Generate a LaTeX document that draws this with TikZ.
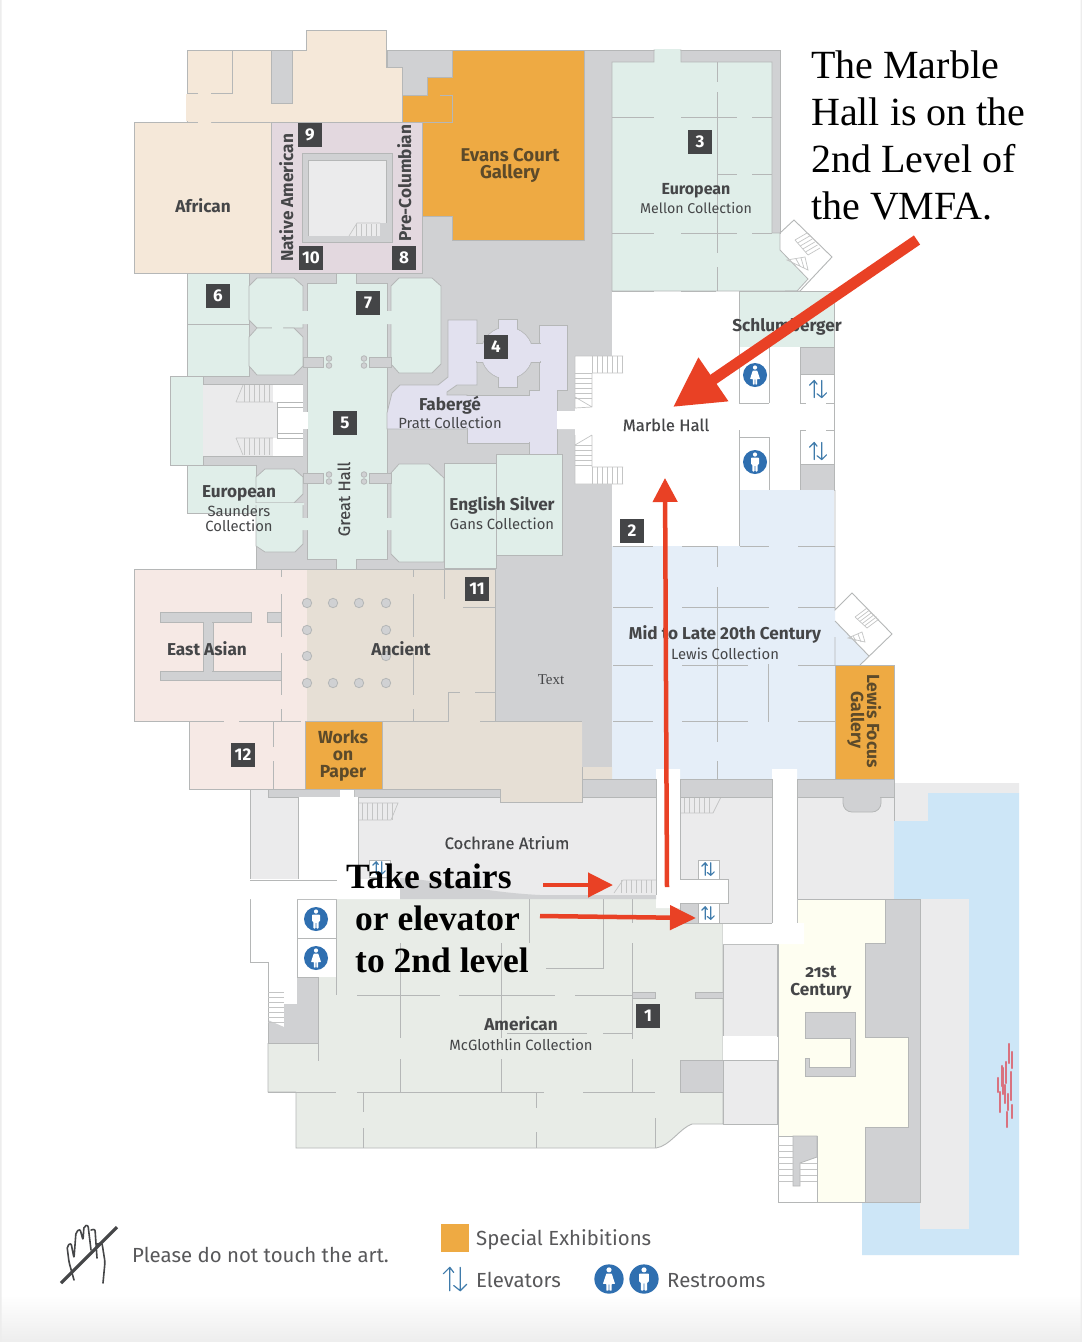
\documentclass[tikz,border=0pt]{standalone}
\usepackage{fontspec}
\setmainfont{Fira Sans}
\newfontfamily\tms{Liberation Serif}
\newfontfamily\medf[FakeBold=0.35]{Fira Sans}
\usetikzlibrary{arrows.meta}
\definecolor{core}{HTML}{D0D1D3}
\definecolor{ln}{HTML}{B5B7B7}
\definecolor{mint}{HTML}{E0EEE9}
\definecolor{sand}{HTML}{F5E8D9}
\definecolor{plum}{HTML}{E3D8DF}
\definecolor{amber}{HTML}{EEAA43}
\definecolor{lav}{HTML}{E2E1EF}
\definecolor{sky}{HTML}{E5EEF8}
\definecolor{pink}{HTML}{F6E9E5}
\definecolor{anc}{HTML}{E6DFD5}
\definecolor{atr}{HTML}{EBEBEC}
\definecolor{amer}{HTML}{E8ECE7}
\definecolor{yel}{HTML}{FEFEF1}
\definecolor{water}{HTML}{CDE6F7}
\definecolor{redarrow}{HTML}{E94125}
\definecolor{badgec}{HTML}{444547}
\definecolor{txt}{HTML}{454648}
\definecolor{otxt}{HTML}{5C4A2A}
\definecolor{iconb}{HTML}{2F6FB0}
\definecolor{elevb}{HTML}{3F7BAB}
\definecolor{stairc}{HTML}{C4C5C5}
\definecolor{fish}{HTML}{D9727F}
\tikzset{
 room/.style={draw=ln,line width=.8pt,line join=miter},
 wl/.style={draw=ln,line width=.9pt},
 st/.style={draw=stairc,line width=.7pt},
 badge/.style={fill=badgec,text=white,minimum size=24pt,inner sep=0pt,font=\fontsize{17}{17}\selectfont\bfseries},
 bl/.style={anchor=base,inner sep=0pt,text=txt,font=\fontsize{17.2}{19}\selectfont\bfseries},
 bls/.style={anchor=base,inner sep=0pt,text=txt,font=\fontsize{16}{18}\selectfont\bfseries},
 ol/.style={anchor=base,inner sep=0pt,text=otxt,font=\fontsize{17.5}{19}\selectfont\bfseries},
 sl/.style={anchor=base,inner sep=0pt,text=txt,font=\fontsize{14.8}{16}\selectfont},
 ml/.style={anchor=base,inner sep=0pt,text=txt,font=\fontsize{16.6}{18}\medf\selectfont},
 lg/.style={anchor=base west,inner sep=0pt,text=txt!90,font=\fontsize{20.4}{24}\selectfont},
 big/.style={anchor=base west,inner sep=0pt,text=black,font=\fontsize{40}{44}\tms\selectfont},
 bigb/.style={anchor=base west,inner sep=0pt,text=black,font=\fontsize{35.5}{40}\tms\selectfont\bfseries},
 elevpic/.pic={
  \draw[elevb,line width=1.2pt,line cap=round,line join=round] (-4,9)--(-4,-9) (-9,-4)--(-4,-9)--(-1,-5);
  \draw[elevb,line width=1.2pt,line cap=round,line join=round] (4,-9)--(4,9) (-1,5)--(4,9)--(9,4);
 },
 manpic/.pic={
  \fill[iconb] (0,0) circle (12pt);
  \fill[white] (0,-7.5) circle (2.1pt);
  \fill[white,rounded corners=.8pt] (-4,-4.5)--(4,-4.5)--(4,2.5)--(2.6,2.5)--(2.6,9.5)--(.3,9.5)--(.3,3)--(-.3,3)--(-.3,9.5)--(-2.6,9.5)--(-2.6,2.5)--(-4,2.5)--cycle;
 },
 womanpic/.pic={
  \fill[iconb] (0,0) circle (12pt);
  \fill[white] (0,-7.5) circle (2.1pt);
  \fill[white,rounded corners=.5pt] (-2.2,-4.5)--(2.2,-4.5)--(5,4)--(2.2,4)--(2.2,9.5)--(.3,9.5)--(.3,4)--(-.3,4)--(-.3,9.5)--(-2.2,9.5)--(-2.2,4)--(-5,4)--cycle;
 },
}
\begin{document}
\begin{tikzpicture}[x=1pt,y=-1pt]
\useasboundingbox (0,0) rectangle (1082,1342);
\fill[white] (0,0) rectangle (1082,1342);
\shade[top color=white,bottom color=black!7,draw=none] (0,1295) rectangle (1082,1342);
\fill[black!7] (0,0) rectangle (1.5,1342) (1080.5,0) rectangle (1082,1342);

% ---- grey core
\path[fill=core,room] (387,50)--(780,50)--(780,233)--(612,233)--(612,770)--(495,770)--(495,569)--(256,569)--(256,465)--(203,465)--(203,375)--(249,375)--(249,273)--(387,273)--cycle;
\fill[white] (612,234) rectangle (780,292);

% ---- top beige + African
\path[fill=sand,room] (187,50)--(271,50)--(271,103)--(292,103)--(292,50)--(306,50)--(306,30)--(386,30)--(386,67)--(402,67)--(402,122)--(187,122)--cycle;
\path[fill=core,room] (271,50) rectangle (292,103);
\path[fill=sand,room] (134,122) rectangle (271,273);
\fill[sand] (186,94) rectangle (188,121) (198,121) rectangle (211,124) (272,122) rectangle (270,122);
\draw[wl] (232,50)--(232,93)--(211,93) (198,93)--(187,93);

% ---- Evans orange
\path[fill=amber,room] (452,50)--(584,50)--(584,240)--(452,240)--(452,216)--(422,216)--(422,122)--(402,122)--(402,95)--(427,95)--(427,77)--(452,77)--cycle;
\draw[wl] (402,122)--(452,122)--(452,95)--(440,95);

% ---- plum
\path[fill=plum,room] (271,122) rectangle (422,273);
\path[fill=core,room] (302,153) rectangle (392,242);
\fill[atr] (308,160) rectangle (386,236);
\draw[wl,line width=.7pt] (308,236)--(308,160)--(386,160)--(386,223);
\fill[core] (380,223) rectangle (392,236);
\foreach \x in {356,361,...,376} \draw[st] (\x,224)--(\x,236);
\draw[st] (349,236)--(357,223)--(380,223);

% ---- mint, west galleries
\path[fill=mint,room] (187,273) rectangle (249,324);
\path[fill=mint,room] (187,324) rectangle (249,376);
\path[fill=mint,room] (170,376) rectangle (203,465);
\path[fill=mint,room] (187,465)--(256,465)--(256,513)--(187,513)--cycle;
\fill[mint] (248,290) rectangle (251,320);

% octagons
\path[fill=mint,room] (257,278)--(294,278)--(303,286)--(303,328)--(257,328)--(249,320)--(249,286)--cycle;
\path[fill=mint,room] (257,328)--(294,328)--(303,337)--(303,366)--(294,375)--(257,375)--(249,366)--(249,337)--cycle;
\path[fill=mint,room] (399,278)--(432,278)--(441,286)--(441,364)--(432,373)--(399,373)--(391,364)--(391,286)--cycle;
\path[fill=mint,room] (265,469)--(294,469)--(303,477)--(303,494)--(294,503)--(256,503)--(256,477)--cycle;
\path[fill=mint,room] (256,503)--(303,503)--(303,544)--(295,552)--(265,552)--(256,546)--cycle;
\path[fill=mint,room] (399,464)--(429,464)--(444,478)--(444,562)--(399,562)--(391,554)--(391,473)--cycle;
\fill[mint] (255,503) rectangle (304,505) (272,327) rectangle (283,330);

% Left stair space
\fill[white] (203,384) rectangle (303,456);
\fill[atr] (203,384) rectangle (273,456);
\fill[atr] (203,402) rectangle (277,438);
\draw[wl,line width=.7pt] (203,384)--(303,384) (203,456)--(303,456) (277,402)--(277,438) (277,402)--(303,402) (277,407)--(303,407) (277,433)--(303,433) (277,438)--(303,438);
\foreach \x in {244,249,...,272} {\draw[st] (\x,385)--(\x,402); \draw[st] (\x,438)--(\x,455);}
\draw[st] (236,402)--(243,385) (236,438)--(243,455) (236,402)--(273,402) (236,438)--(273,438);

% Great Hall
\path[fill=mint,room] (307,283)--(336,283)--(336,273)--(356,273)--(356,283)--(387,283)--(387,559)--(356,559)--(356,570)--(336,570)--(336,559)--(307,559)--cycle;
\fill[mint] (302,311) rectangle (308,324) (302,518) rectangle (308,530);
\fill[mint] (386,311) rectangle (392,324) (386,518) rectangle (392,530);
\fill[white] (302,412) rectangle (308,429);
\foreach \y in {357,473} {
 \path[fill=core,room] (303,\y) rectangle (323,\y+10);
 \path[fill=core,room] (369,\y) rectangle (391,\y+10);
 \foreach \x in {329,364} {
  \path[fill=core,room] (\x,\y+1.5) circle (2.8pt);
  \path[fill=core,room] (\x,\y+8.5) circle (2.8pt);
 }
}

% ---- Faberge
\path[fill=lav,room] (387,429)--(387,413)--(392,393)--(400,385)--(438,385)--(448,377)--(448,320)--(477,320)--(477,385)--(457,385)--(447,392)--(447,395)--(467,395)--(467,429)--cycle;
\path[fill=lav,room] (467,395) rectangle (529,443);
\path[fill=lav,room] (539,325)--(567,325)--(567,390)--(557,390)--(557,454)--(529,454)--(529,390)--(539,390)--cycle;
\fill[lav] (440,396) rectangle (469,428);
% rotunda
\path[fill=lav,room] (507,353) circle (26pt);
\path[fill=lav,room] (498,319) rectangle (517,387);
\path[fill=lav,room] (476,343) rectangle (540,362);
\fill[lav] (507,353) circle (25.5pt) (499,320) rectangle (516,386) (475,344) rectangle (541,361);
\fill[lav] (527,396) rectangle (531,442);

% English Silver
\path[fill=mint,room] (444,463) rectangle (496,568);
\path[fill=mint,room] (496,454) rectangle (562,555);

% ---- Mellon
\path[fill=mint,room] (612,62)--(654,62)--(654,50)--(681,50)--(681,62)--(772,62)--(772,233)--(780,233)--(780,250)--(808,279)--(797,291)--(612,291)--cycle;
\draw[wl] (780,233)--(794,220)--(832,257)--(800,291)--(785,291);
\draw[st] (795,240)--(808,255) (807,233)--(820,245);
\foreach \a/\b in {0/0,2.6/3,5.2/6,7.8/9,10.4/12,13/15} \draw[st] (795+\a,240+\b)--(807+\a,233+\b);
\draw[st] (787,260)--(805,257)--(808,270)--cycle (796,259)--(800,266) (801,258)--(804,268);
\fill[mint] (655,49) rectangle (680,63);
\draw[wl] (612,117)--(654,117) (681,117)--(737,117) (752,117)--(772,117);
\draw[wl] (717,174)--(737,174) (752,174)--(772,174);
\draw[wl] (612,233)--(654,233) (681,233)--(737,233) (752,233)--(772,233);
\draw[wl] (612,291)--(654,291) (681,291)--(716,291);
\draw[wl] (717,62)--(717,82) (717,92)--(717,253) (717,267)--(717,291);

% ---- Marble Hall (white)
\fill[white] (612,292)--(739,292)--(739,546)--(612,546)--(612,484)--(575,484)--(575,429)--(557,429)--(557,411)--(575,411)--(575,356)--(612,356)--cycle;
\path[fill=mint,room] (739,291) rectangle (834,347);
\fill[white] (739,347) rectangle (834,490);
\draw[wl] (834,347)--(834,490);
\draw[wl] (739,347)--(739,403) (739,430)--(739,490) (739,403)--(769,403) (739,437)--(769,437) (739,490)--(769,490);
\draw[wl] (769,347)--(769,403) (769,437)--(769,490);
\path[fill=core,room] (800,347) rectangle (834,374);
\path[fill=core,room] (800,464) rectangle (834,490);
\draw[wl] (800,374)--(800,403)--(806,403) (826,403)--(834,403) (800,464)--(800,430)--(806,430) (826,430)--(834,430);
\draw[st] (575,356)--(623,356) (575,356)--(575,408) (592,373)--(623,373) (592,373)--(592,407) (575,435)--(575,484)--(623,484) (592,467)--(623,467) (592,435)--(592,467) (575,408)--(592,407) (575,397)--(592,407) (575,445)--(592,435);
\foreach \x in {592,597,...,623} {\draw[st] (\x,356)--(\x,373); \draw[st] (\x,467)--(\x,484);}
\foreach \y in {373,378,...,398} \draw[st] (575,\y)--(592,\y);
\foreach \y in {445,450,...,467} \draw[st] (575,\y)--(592,\y);

% ---- Blue / Mid-Late
\path[fill=sky,draw=none] (739,490)--(834,490)--(834,546)--(835,546)--(835,621)--(869,656)--(860,665)--(835,665)--(835,780)--(612,780)--(612,546)--(739,546)--cycle;
\draw[wl] (835,490)--(835,610)--(852,593)--(892,634)--(860,665) (869,656)--(835,621) (835,637)--(835,665);
\draw[st] (855,617)--(867,628) (867,608)--(878,620);
\foreach \a/\b in {0/0,2.4/2.2,4.8/4.4,7.2/6.6,9.6/8.8,12/11} \draw[st] (855+\a,617+\b)--(867+\a,608+\b);
\draw[st] (848,638)--(862,632)--(865,642)--cycle (853,636)--(856,641) (858,634)--(861,642);
\draw[wl] (613,546)--(653,546) (682,546)--(717,546) (740,546)--(769,546) (798,546)--(835,546) (739,490)--(739,546);
\draw[wl] (613,607)--(653,607) (682,607)--(769,607) (798,607)--(835,607);
\draw[wl] (613,665)--(653,665) (682,665)--(748,665) (798,665)--(835,665);
\draw[wl] (613,721)--(653,721) (682,721)--(748,721) (798,721)--(835,721);
\draw[wl] (717,546)--(717,567) (717,587)--(717,742) (717,761)--(717,780);
\draw[wl] (768,664)--(768,722);
\path[fill=amber,room] (835,665) rectangle (894,780);

% ---- East Asian and Ancient
\path[fill=pink,draw=none] (134,569) rectangle (308,721) (189,721) rectangle (306,789);
\path[fill=anc,draw=none] (307,569) rectangle (495,721) (382,721) rectangle (582,789) (582,767) rectangle (612,779);
\draw[wl] (134,569)--(495,569)--(495,721);
\draw[wl] (134,569)--(134,721)--(224,721) (239,721)--(273,721) (189,721)--(189,789)--(500,789) (495,721)--(582,721);
\draw[wl] (239,721)--(301,721) (315,721)--(448,721)--(448,692)--(460,692) (475,692)--(495,692) (480,721)--(495,721);
\draw[wl] (281,569)--(281,577) (281,594)--(281,637) (281,653)--(281,695) (281,709)--(281,721);
\draw[wl] (413,569)--(413,577) (413,594)--(413,637) (413,653)--(413,695) (413,709)--(413,721);
\draw[wl] (444,569)--(444,599) (463,607)--(495,607);
\draw[wl] (273,721)--(273,747) (273,761)--(273,789);
\path[fill=core,room] (160,612) rectangle (251,622);
\path[fill=core,room] (203,622) rectangle (213,671);
\path[fill=core,room] (160,671) rectangle (281,680);
\path[fill=core,room] (267,612) rectangle (281,622);
\fill[core] (204,620) rectangle (212,673);
\foreach \p in {(307,603),(333,603),(359,603),(386,603),(307,630),(386,630),(307,656),(386,656),(307,683),(333,683),(359,683),(386,683)}
 \path[fill=core,room] \p circle (4.7pt);
\path[fill=amber,room] (305,721) rectangle (382,789);

% ---- Atrium etc.
\path[fill=atr,room] (358,797) rectangle (656,896);
\path[fill=atr,room] (250,789)--(298,789)--(298,880)--(250,880)--cycle;
\path[fill=atr,room] (680,797) rectangle (772,923);
\path[fill=atr,room] (797,797) rectangle (894,899);
\foreach \x in {362,367,...,392} \draw[st] (\x,803)--(\x,820);
\draw[st] (358,803)--(398,803)--(391,820)--(358,820);
\foreach \x in {684,689,...,712} \draw[st] (\x,797)--(\x,813);
\draw[st] (680,813)--(713,813)--(721,797);

% ---- lower level grey strips
\path[fill=core,room] (268,789) rectangle (340,797);
\path[fill=core,room] (354,789) rectangle (500,797);
\path[fill=core,room] (582,779) rectangle (656,797);
\path[fill=core,room] (680,779) rectangle (772,797);
\path[fill=core,room,rounded corners=9pt] (843,785)--(843,812)--(881,812)--(881,785)--cycle;
\path[fill=core,room] (797,779) rectangle (894,797);
\fill[core] (844,796) rectangle (880,799);
\path[fill=anc,draw=none] (500,789) rectangle (582,802);
\draw[wl] (500,789)--(500,802)--(582,802)--(582,767);

% ---- water
\fill[atr] (895,783) rectangle (1019,793) (895,783) rectangle (928,821);
\fill[water] (928,793)--(1019,793)--(1019,1255)--(862,1255)--(862,1202)--(920,1202)--(920,899)--(894,899)--(894,821)--(928,821)--cycle;
\fill[atr] (920,899) rectangle (969,1229);
\foreach \a/\b/\c in {1009/1044/1063,1012/1052/1068,1006/1062/1083,1003/1068/1094,998/1078/1092,1011/1072/1100,1005/1085/1103,1000/1092/1112,1012/1105/1118,1007/1112/1127,1002/1066/1086,1008/1094/1110}
 \draw[line width=2.2pt,color=fish,line cap=round] (\a,\b)--(\a,\c);

% ---- 21st Century
\path[fill=core,room] (885,899)--(920,899)--(920,1202)--(865,1202)--(865,1127)--(908,1127)--(908,1037)--(865,1037)--(865,943)--(885,943)--cycle;
\path[fill=yel,room] (797,899)--(885,899)--(885,943)--(865,943)--(865,1037)--(908,1037)--(908,1127)--(865,1127)--(865,1202)--(778,1202)--(778,943)--(797,943)--cycle;
\path[fill=core,room] (805,1012)--(855,1012)--(855,1076)--(805,1076)--(805,1058)--(809,1058)--(809,1067)--(850,1067)--(850,1038)--(805,1038)--cycle;
\path[fill=white,room] (778,1136) rectangle (817,1202);
\path[fill=core,room] (793,1136)--(817,1136)--(817,1157)--(800,1163)--(800,1186)--(793,1186)--cycle;
\foreach \y in {1145,1151,...,1183} \draw[st] (778,\y)--(793,\y);
\foreach \y in {1163,1169,...,1183} \draw[st] (800,\y)--(817,\y);

% ---- American
\path[fill=amer,draw=none] (336,899)--(656,899)--(656,908)--(680,908)--(680,923)--(723,923)--(723,1124)--(692,1124) .. controls (680,1128) and (670,1146) .. (656,1148)--(296,1148)--(296,1092)--(268,1092)--(268,1043)--(318,1043)--(318,977)--(336,977)--cycle;
\draw[wl] (723,923)--(723,1124)--(692,1124) .. controls (680,1128) and (670,1146) .. (656,1148)--(296,1148)--(296,1092) (296,1092)--(268,1092)--(268,1043);
\draw[wl] (400,943)--(400,1038) (400,1059)--(400,1092) (501,943)--(501,1038) (501,1059)--(501,1092);
\draw[wl] (529,899)--(529,943) (603,899)--(603,968)--(546,968) (632,899)--(632,923) (632,943)--(632,1039) (632,1059)--(632,1092);
\draw[wl] (357,995)--(440,995) (459,995)--(555,995) (575,995)--(632,995) (603,1033)--(632,1033) (507,1033)--(587,1033);
\draw[wl] (318,1043)--(318,1061) (268,1092)--(336,1092) (357,1092)--(544,1092) (583,1092)--(655,1092);
\draw[wl] (363,1092)--(363,1112) (363,1128)--(363,1148) (536,1092)--(536,1108) (536,1132)--(536,1148) (655,1118)--(655,1148);
\path[fill=core,room] (632,992) rectangle (655,998);
\path[fill=core,room] (695,992) rectangle (723,998);
\path[fill=core,room] (680,1060) rectangle (723,1092);
\path[fill=atr,room] (723,944) rectangle (777,1036);
\path[fill=atr,room] (723,1060) rectangle (777,1124);

% ---- left stair + restrooms
\path[fill=core,draw=none] (297,1004)--(297,977)--(318,977)--(318,1043)--(268,1043)--(268,1020)--(284,1027)--(284,1004)--cycle;
\draw[wl] (250,880)--(250,962)--(268,962)--(268,1043) (297,899)--(336,899)--(336,995) (297,899)--(297,977) (297,938)--(336,938) (297,977)--(318,977) (268,1043)--(318,1043) (318,977)--(318,1043);
\foreach \y in {992,997,...,1022} \draw[st] (268,\y)--(284,\y);

% ---- white corridors
\fill[white] (656,769) rectangle (680,908) (680,879) rectangle (728,903);
\fill[white] (772,769) rectangle (797,923) (723,923) rectangle (804,944);
\fill[white] (723,1036) rectangle (777,1060);
\fill[white] (298,797) rectangle (358,880) (340,790) rectangle (354,800) (250,879) rectangle (400,899);
\draw[wl] (656,779)--(656,895) (680,779)--(680,879) (772,779)--(772,923) (797,779)--(797,899) (680,923)--(772,923) (680,879)--(698,879) (719,879)--(728,879)--(728,903)--(719,903) (680,903)--(698,903);
\draw[wl] (298,797)--(298,879) (358,797)--(358,880) (250,880)--(337,880);
\path[fill=core,room] (680,903) rectangle (698,923);
\path[fill=core,draw=none] (400,878) .. controls (440,880) and (480,892) .. (540,895)--(656,895)--(656,899)--(400,899)--cycle;
\foreach \x in {621,626,...,654} \draw[st] (\x,880)--(\x,893);
\draw[st] (614,893)--(623,880)--(656,880);

% elevator boxes
\path[fill=white,room] (698,860) rectangle (719,879);
\path[fill=white,room] (698,903) rectangle (719,923);
\path[fill=white,room] (369,860) rectangle (390,877);

% ---- icons
\pic[scale=.7] at (708,869) {elevpic};
\pic[scale=.7] at (708,913) {elevpic};
\pic[scale=.7] at (379,868) {elevpic};
\pic[scale=.95] at (818,389) {elevpic};
\pic[scale=.95] at (818,451) {elevpic};
\pic at (755,375) {womanpic};
\pic at (755,462) {manpic};
\pic at (316,919) {manpic};
\pic at (316,958) {womanpic};

% ---- badges
\node[badge] (b1) at (648,1016) {1};
\node[badge] (b2) at (632,531) {2};
\node[badge] (b3) at (700,142) {3};
\node[badge] (b4) at (496,347) {4};
\node[badge] (b5) at (345,423) {5};
\node[badge] (b6) at (218,296) {6};
\node[badge] (b7) at (368,303) {7};
\node[badge] (b8) at (404,258) {8};
\node[badge] (b9) at (310,135) {9};
\node[badge] (b10) at (311,258) {10};
\node[badge] (b11) at (477,589) {11};
\node[badge] (b12) at (243,755) {12};

% ---- labels
\node[ol,font=\fontsize{18.5}{19}\selectfont\bfseries] (tEv1) at (510,161) {Evans Court};
\node[ol,font=\fontsize{18.5}{19}\selectfont\bfseries] (tEv2) at (510,178) {Gallery};
\node[bl] (tAf) at (203,212) {African};
\node[bl,rotate=90] (tNa) at (293,198) {Native American};
\node[bl,rotate=90] (tPr) at (411,183) {Pre-Columbian};
\node[bls] (tEu1) at (696,194) {European};
\node[sl,font=\fontsize{14.2}{16}\selectfont] (tEu2) at (696,213) {Mellon Collection};
\node[bl] (tSc) at (787,331) {Schlumberger};
\node[ml] (tMa) at (666,431) {Marble Hall};
\node[bl] (tFa) at (450,410) {Fabergé};
\node[sl] (tFa2) at (450,428) {Pratt Collection};
\node[bl] (tEn) at (502,510) {English Silver};
\node[sl] (tEn2) at (502,529) {Gans Collection};
\node[bl] (tSa) at (239,497) {European};
\node[sl] (tSa2) at (239,516) {Saunders};
\node[sl] (tSa3) at (239,531) {Collection};
\node[ml,rotate=90] (tGr) at (350,499) {Great Hall};
\node[bl] (tEa) at (207,655) {East Asian};
\node[bl] (tAn) at (401,655) {Ancient};
\node[ol] (tWo1) at (343,743) {Works};
\node[ol] (tWo2) at (343,760) {on};
\node[ol] (tWo3) at (343,777) {Paper};
\node[anchor=base,inner sep=0pt,text=txt,font=\fontsize{15}{17}\tms\selectfont] (tTe) at (551,684) {Text};
\node[bl] (tMi) at (725,639) {Mid to Late 20th Century};
\node[sl] (tLe) at (725,659) {Lewis Collection};
\node[ol,rotate=-90] (tLf1) at (867,721) {Lewis Focus};
\node[ol,rotate=-90] (tLf2) at (851,720) {Gallery};
\node[ml] (tCo) at (507,849) {Cochrane Atrium};
\node[bl] (tAm) at (521,1030) {American};
\node[sl] (tAm2) at (521,1050) {McGlothlin Collection};
\node[bl,font=\fontsize{17.2}{19}\selectfont\bfseries\addfontfeatures{Numbers=OldStyle}] (tCe1) at (821,977) {21st};
\node[bl] (tCe2) at (821,995) {Century};

% ---- annotations
\node[big] (n1) at (811,78) {The Marble};
\node[big] (n2) at (811,125) {Hall is on the};
\node[big] (n3) at (811,172) {2nd Level of};
\node[big] (n4) at (811,219) {the VMFA.};
\node[bigb] (n5) at (346,888) {Take stairs};
\node[bigb] (n6) at (355,930) {or elevator};
\node[bigb] (n7) at (355,972) {to 2nd level};

% ---- red arrows
\coordinate (a1s) at (917,240); \coordinate (a1e) at (673,407);
\coordinate (a2s) at (667,887); \coordinate (a2e) at (665,478);
\coordinate (a3s) at (543,885); \coordinate (a3e) at (613,885);
\coordinate (a4s) at (540,916); \coordinate (a4e) at (696,918);
\draw[redarrow,line width=11pt,-{Triangle[length=49pt,width=50pt]}] (a1s)--(a1e);
\draw[redarrow,line width=4.5pt,-{Triangle[length=24pt,width=24pt]}] (a2s)--(a2e);
\draw[redarrow,line width=4.5pt,-{Triangle[length=25pt,width=24pt]}] (a3s)--(a3e);
\draw[redarrow,line width=4.5pt,-{Triangle[length=26pt,width=24pt]}] (a4s)--(a4e);

% ---- legend
\draw[txt,line width=1.6pt,line join=round,line cap=round,rounded corners=2pt] (74,1280)--(69,1262)--(67,1246)--(71,1243)--(74,1258)--(76,1232)--(80,1229)--(83,1240)--(84,1226)--(88,1225)--(91,1250) (91,1230)--(95,1229)--(97,1258) (97,1244)--(102,1243)--(105,1262)--(103,1283);
\draw[txt,line width=3.2pt] (61,1283)--(117,1227);
\node[lg] (lPl) at (132,1262) {Please do not touch the art.};
\path[fill=amber,draw=none] (441,1224) rectangle (469,1252);
\node[lg] (lSp) at (476,1245) {Special Exhibitions};
\pic[scale=1.3] at (455,1279) {elevpic};
\node[lg] (lEl) at (476,1287) {Elevators};
\pic[scale=1.22] at (609,1279) {womanpic};
\pic[scale=1.22] at (644,1279) {manpic};
\node[lg] (lRe) at (667,1287) {Restrooms};
\end{tikzpicture}
\end{document}
